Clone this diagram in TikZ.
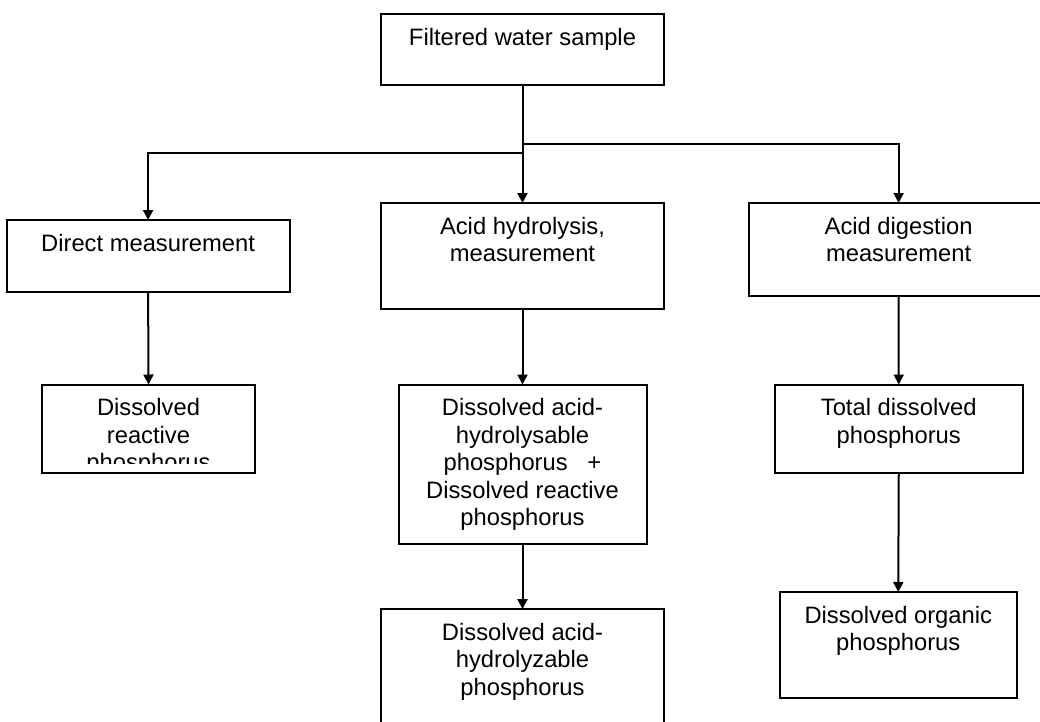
\documentclass[tikz,border=0pt]{standalone}
\usepackage{fontspec}
\setmainfont{Liberation Sans}
\usetikzlibrary{arrows.meta}
\begin{document}
\begin{tikzpicture}[x=1pt,y=-1pt,
  boxnode/.style={draw, line width=2pt, inner sep=0pt, outer sep=0pt, anchor=north west},
  txt/.style={inner sep=0pt, align=center, anchor=north, font=\fontsize{23.75}{27.5}\selectfont},
  conn/.style={draw, line width=2pt, -{Triangle[length=10pt,width=10pt]}},
  plain/.style={draw, line width=2pt}]
\useasboundingbox[fill=white] (0,0) rectangle (1040,721);
% boxes
\node[boxnode, minimum width=283pt, minimum height=71pt] (top) at (381,14) {};
\node[boxnode, minimum width=283pt, minimum height=72pt] (left) at (6.6,220) {};
\node[boxnode, minimum width=283pt, minimum height=106pt] (mid) at (381,203) {};
\node[boxnode, minimum width=300pt, minimum height=93pt] (right) at (748.6,203) {};
\node[boxnode, minimum width=213pt, minimum height=88.5pt] (left2) at (42,384.5) {};
\node[boxnode, minimum width=248pt, minimum height=159pt] (mid2) at (398.5,384.5) {};
\node[boxnode, minimum width=283pt, minimum height=130pt] (mid3) at (381,609) {};
\node[boxnode, minimum width=247.5pt, minimum height=88.5pt] (right2) at (775,384.5) {};
\node[boxnode, minimum width=236.5pt, minimum height=106pt] (right3) at (780,592) {};
% texts
\node[txt] (top-t) at ([yshift=-11.75pt]top.north) {\strut Filtered water sample};
\node[txt] (left-t) at ([yshift=-11.75pt]left.north) {\strut Direct measurement};
\node[txt] (mid-t) at ([yshift=-11.75pt]mid.north) {\strut Acid hydrolysis,\\measurement};
\node[txt] (right-t) at ([yshift=-11.75pt]right.north) {\strut Acid digestion\\measurement};
\begin{scope}
\clip (42,384.5) rectangle (255,463.7);
\node[txt] (left2-t) at ([yshift=-11.75pt]left2.north) {\strut Dissolved\\reactive\\phosphorus};
\end{scope}
\node[txt] (mid2-t) at ([yshift=-11.75pt]mid2.north) {\strut Dissolved acid-\\hydrolysable\\phosphorus\ \ \ +\\Dissolved reactive\\phosphorus};
\node[txt] (mid3-t) at ([yshift=-11.75pt]mid3.north) {\strut Dissolved acid-\\hydrolyzable\\phosphorus};
\node[txt] (right2-t) at ([yshift=-11.75pt]right2.north) {\strut Total dissolved\\phosphorus};
\node[txt] (right3-t) at ([yshift=-11.75pt]right3.north) {\strut Dissolved organic\\phosphorus};
% connectors
\coordinate (jL) at (522.6,152.7);
\coordinate (jR) at (522.6,144);
\draw[conn] (top.south) -- (mid.north);
\draw[conn] (jL) -| (left.north);
\draw[conn] (jR) -| (right.north);
\draw[conn] (left.south) -- (left2.north);
\draw[conn] (mid.south) -- (mid2.north);
\draw[conn] (mid2.south) -- (mid3.north);
\draw[conn] (right.south) -- (right2.north);
\draw[conn] (right2.south) -- (right3.north);
\end{tikzpicture}
\end{document}
